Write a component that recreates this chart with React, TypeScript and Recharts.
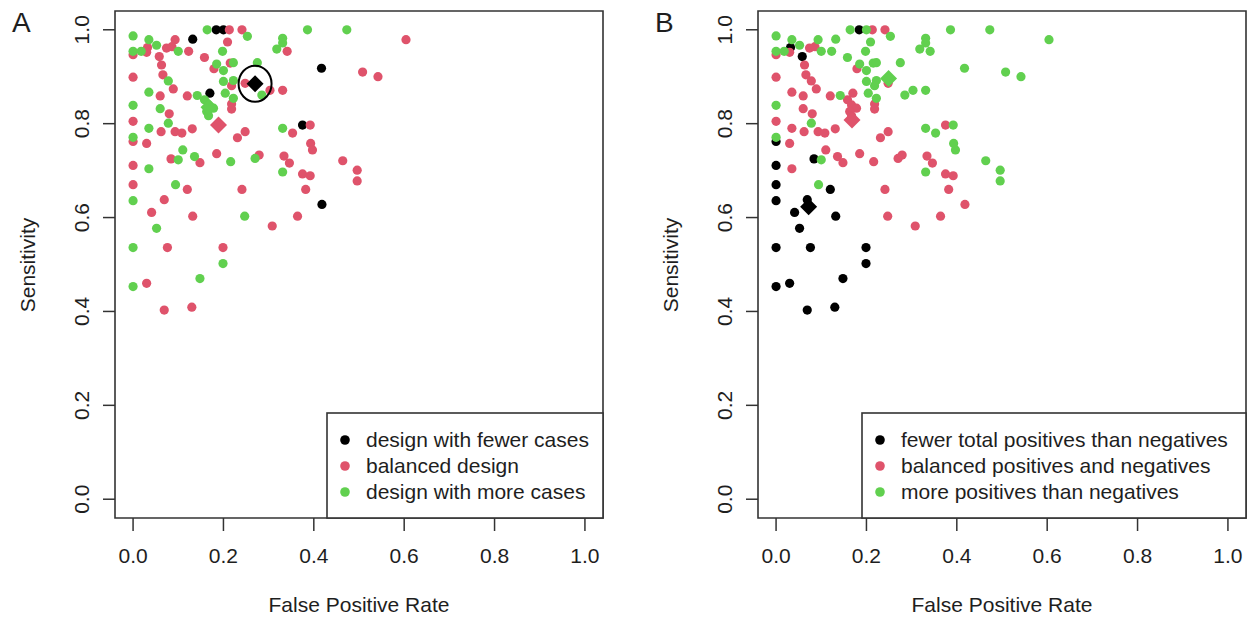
import { ReferenceArea, Scatter, ScatterChart, XAxis, YAxis } from "recharts";

// one entry per study: false positive rate and sensitivity
const fpr = [
  0.164, 0.184, 0.2, 0.213, 0.241, 0.386, 0.473, 0.604, 0.253, 0.0,
  0.035, 0.093, 0.132, 0.209, 0.331, 0.331, 0.318, 0.341, 0.052, 0.032,
  0.03, 0.0, 0.018, 0.0, 0.074, 0.086, 0.1, 0.123, 0.198, 0.058,
  0.158, 0.063, 0.185, 0.179, 0.2, 0.215, 0.222, 0.275, 0.417, 0.508,
  0.542, 0.066, 0.0, 0.078, 0.2, 0.222, 0.218, 0.248, 0.285, 0.303,
  0.331, 0.089, 0.035, 0.17, 0.204, 0.06, 0.12, 0.142, 0.158, 0.167,
  0.178, 0.163, 0.167, 0.222, 0.218, 0.218, 0.0, 0.06, 0.08, 0.0,
  0.078, 0.375, 0.392, 0.035, 0.062, 0.093, 0.108, 0.131, 0.248, 0.231,
  0.331, 0.353, 0.0, 0.0, 0.03, 0.393, 0.397, 0.11, 0.084, 0.1,
  0.136, 0.148, 0.185, 0.216, 0.27, 0.279, 0.334, 0.346, 0.464, 0.496,
  0.496, 0.0, 0.035, 0.331, 0.375, 0.392, 0.0, 0.094, 0.12, 0.241,
  0.382, 0.0, 0.069, 0.418, 0.041, 0.132, 0.247, 0.364, 0.308, 0.052,
  0.0, 0.076, 0.199, 0.199, 0.148, 0.0, 0.03, 0.069, 0.13,
];
const sensitivity = [
  1.0, 1.0, 1.0, 1.0, 1.0, 1.0, 1.0, 0.979, 0.986, 0.987,
  0.979, 0.979, 0.98, 0.974, 0.982, 0.972, 0.959, 0.954, 0.967, 0.962,
  0.952, 0.954, 0.954, 0.947, 0.961, 0.964, 0.954, 0.954, 0.954, 0.943,
  0.941, 0.925, 0.927, 0.917, 0.913, 0.929, 0.93, 0.93, 0.918, 0.91,
  0.9, 0.904, 0.899, 0.891, 0.89, 0.892, 0.881, 0.886, 0.861, 0.871,
  0.871, 0.874, 0.867, 0.865, 0.865, 0.859, 0.859, 0.86, 0.851, 0.84,
  0.833, 0.826, 0.817, 0.854, 0.842, 0.831, 0.839, 0.832, 0.821, 0.805,
  0.801, 0.797, 0.797, 0.79, 0.783, 0.783, 0.78, 0.789, 0.783, 0.77,
  0.79, 0.78, 0.771, 0.762, 0.758, 0.758, 0.744, 0.744, 0.725, 0.723,
  0.73, 0.717, 0.736, 0.719, 0.726, 0.733, 0.731, 0.716, 0.721, 0.701,
  0.678, 0.711, 0.704, 0.697, 0.693, 0.689, 0.67, 0.67, 0.66, 0.66,
  0.66, 0.636, 0.638, 0.628, 0.611, 0.603, 0.603, 0.603, 0.582, 0.577,
  0.536, 0.536, 0.536, 0.502, 0.47, 0.453, 0.46, 0.403, 0.409,
];
// 0 = fewer cases, 1 = balanced, 2 = more cases
const designGroup = [
  2, 0, 0, 1, 1, 2, 2, 1, 2, 2,
  2, 1, 0, 1, 2, 2, 2, 1, 2, 1,
  1, 2, 2, 1, 1, 1, 2, 1, 2, 1,
  1, 1, 2, 1, 2, 1, 2, 2, 0, 1,
  1, 1, 1, 2, 2, 2, 1, 1, 2, 1,
  1, 1, 2, 0, 2, 1, 1, 2, 2, 2,
  2, 2, 2, 2, 1, 1, 2, 2, 1, 1,
  2, 0, 1, 2, 1, 1, 1, 1, 1, 1,
  2, 1, 2, 1, 1, 1, 1, 2, 1, 2,
  2, 1, 1, 2, 2, 1, 1, 1, 1, 1,
  1, 1, 2, 2, 1, 1, 1, 2, 1, 1,
  1, 2, 1, 0, 1, 1, 2, 1, 1, 2,
  2, 1, 1, 2, 2, 2, 1, 1, 1,
];
// 0 = fewer positives, 1 = balanced, 2 = more positives
const positivesGroup = [
  2, 0, 2, 1, 1, 2, 2, 2, 2, 2,
  2, 2, 2, 2, 2, 2, 2, 2, 2, 0,
  1, 2, 2, 1, 1, 1, 2, 2, 2, 0,
  2, 1, 2, 1, 2, 2, 2, 2, 2, 2,
  2, 1, 1, 1, 2, 2, 2, 1, 2, 2,
  2, 1, 1, 1, 2, 1, 1, 2, 1, 1,
  1, 1, 1, 2, 1, 1, 2, 1, 1, 1,
  2, 1, 2, 1, 1, 1, 1, 1, 1, 1,
  2, 2, 2, 0, 1, 2, 2, 1, 0, 2,
  1, 1, 1, 1, 1, 1, 1, 1, 2, 2,
  2, 0, 1, 2, 1, 1, 0, 2, 0, 1,
  1, 0, 0, 1, 0, 0, 1, 1, 1, 0,
  0, 0, 0, 0, 0, 0, 0, 0, 0,
];

// pooled estimate per group
const designSummaryFpr = [0.27, 0.189, 0.168];
const designSummarySens = [0.885, 0.797, 0.835];
const positivesSummaryFpr = [0.072, 0.168, 0.249];
const positivesSummarySens = [0.623, 0.808, 0.896];

const designLabels = ["design with fewer cases", "balanced design", "design with more cases"];
const positivesLabels = [
  "fewer total positives than negatives",
  "balanced positives and negatives",
  "more positives than negatives",
];

const groupColors = ["#000000", "#DF536B", "#61D04F"];
const ticks = [0, 0.2, 0.4, 0.6, 0.8, 1];

const FONT = "'Liberation Sans', Arial, Helvetica, sans-serif";
const INK = "#1e1e1e";
const FS = 21;

type Pt = { x: number; y: number };

const dotShape = (color: string) => (p: any) => (
  <circle cx={p.cx} cy={p.cy} r={4.6} fill={color} />
);

const diamondShape = (color: string) => (p: any) => {
  const d = 8.5;
  return (
    <polygon
      points={`${p.cx},${p.cy - d} ${p.cx + d},${p.cy} ${p.cx},${p.cy + d} ${p.cx - d},${p.cy}`}
      fill={color}
    />
  );
};

const ringShape = (p: any) => (
  <ellipse cx={p.cx} cy={p.cy} rx={16.5} ry={18} fill="none" stroke="#000" strokeWidth={2} />
);

function XTick({ x, y, payload }: any) {
  return (
    <text x={x} y={y} dy="0.71em" textAnchor="middle" fontSize={FS} fontFamily={FONT} fill={INK}>
      {Number(payload.value).toFixed(1)}
    </text>
  );
}

function YTick({ x, y, payload }: any) {
  return (
    <text
      x={x}
      y={y}
      transform={`rotate(-90, ${x}, ${y})`}
      textAnchor="middle"
      fontSize={FS}
      fontFamily={FONT}
      fill={INK}
    >
      {Number(payload.value).toFixed(1)}
    </text>
  );
}

function Panel({
  left,
  width,
  letter,
  groups,
  sumX,
  sumY,
  labels,
  legendLeft,
  ringed,
}: {
  left: number;
  width: number;
  letter: string;
  groups: number[];
  sumX: number[];
  sumY: number[];
  labels: string[];
  legendLeft: number;
  ringed: boolean;
}) {
  const byGroup: Pt[][] = [[], [], []];
  fpr.forEach((x, i) => byGroup[groups[i]].push({ x, y: sensitivity[i] }));
  const summaries: Pt[][] = sumX.map((x, g) => [{ x, y: sumY[g] }]);

  const boxRight = 603;
  const legendTop = 413;
  const rowY = [440, 466, 492];

  return (
    <div style={{ position: "absolute", left, top: 0, width, height: 620 }}>
      <ScatterChart width={width} height={620} margin={{ top: 11, right: width - boxRight, bottom: 0, left: 0 }}>
        <XAxis
          dataKey="x"
          type="number"
          domain={[-0.04, 1.04]}
          ticks={ticks}
          allowDataOverflow
          axisLine={false}
          tickLine={{ stroke: "#333", strokeWidth: 1.5 }}
          tickSize={13}
          tickMargin={17}
          height={102}
          tick={<XTick />}
        />
        <YAxis
          dataKey="y"
          type="number"
          domain={[-0.04, 1.04]}
          ticks={ticks}
          allowDataOverflow
          axisLine={false}
          tickLine={{ stroke: "#333", strokeWidth: 1.5 }}
          tickSize={12}
          tickMargin={14}
          width={115}
          tick={<YTick />}
        />
        <ReferenceArea
          x1={-0.04}
          x2={1.04}
          y1={-0.04}
          y2={1.04}
          fill="none"
          fillOpacity={0}
          stroke="#333"
          strokeWidth={1.6}
          ifOverflow="visible"
        />
        {byGroup.map((pts, g) => (
          <Scatter key={`g${g}`} data={pts} shape={dotShape(groupColors[g])} isAnimationActive={false} />
        ))}
        {summaries.map((pts, g) => (
          <Scatter key={`s${g}`} data={pts} shape={diamondShape(groupColors[g])} isAnimationActive={false} />
        ))}
        {ringed ? <Scatter data={summaries[0]} shape={ringShape} isAnimationActive={false} /> : null}
      </ScatterChart>

      <svg
        width={width}
        height={620}
        style={{ position: "absolute", left: 0, top: 0, pointerEvents: "none" }}
        fontFamily={FONT}
      >
        <text x={12} y={32} fontSize={28} fill={INK}>
          {letter}
        </text>
        <text x={35} y={265} transform="rotate(-90, 35, 265)" textAnchor="middle" fontSize={FS} fill={INK}>
          Sensitivity
        </text>
        <text x={359} y={612} textAnchor="middle" fontSize={FS} fill={INK}>
          False Positive Rate
        </text>
        <rect
          x={legendLeft}
          y={legendTop}
          width={boxRight - legendLeft}
          height={518 - legendTop}
          fill="#fff"
          stroke="#333"
          strokeWidth={1.6}
        />
        {labels.map((label, g) => (
          <g key={label}>
            <circle cx={legendLeft + 18} cy={rowY[g]} r={4.8} fill={groupColors[g]} />
            <text x={legendLeft + 39} y={rowY[g] + 7} fontSize={FS} fill={INK}>
              {label}
            </text>
          </g>
        ))}
      </svg>
    </div>
  );
}

export default function App() {
  return (
    <div style={{ position: "absolute", left: 0, top: 0, width: 1249, height: 620, background: "#fff", overflow: "hidden" }}>
      <Panel
        left={0}
        width={620}
        letter="A"
        groups={designGroup}
        sumX={designSummaryFpr}
        sumY={designSummarySens}
        labels={designLabels}
        legendLeft={327}
        ringed
      />
      <Panel
        left={643}
        width={606}
        letter="B"
        groups={positivesGroup}
        sumX={positivesSummaryFpr}
        sumY={positivesSummarySens}
        labels={positivesLabels}
        legendLeft={219}
        ringed={false}
      />
    </div>
  );
}
